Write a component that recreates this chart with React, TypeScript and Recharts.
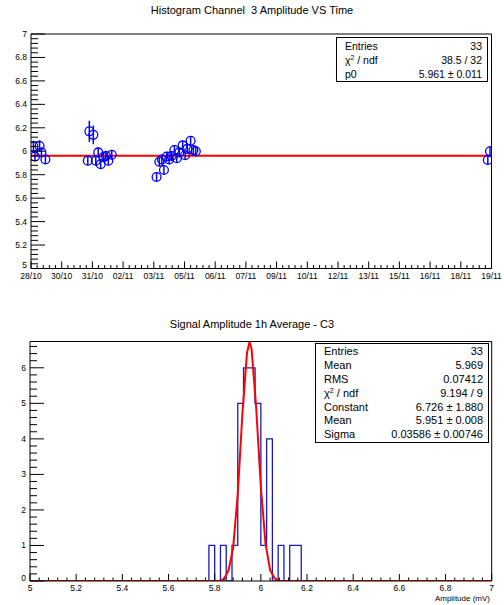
import React from 'react';
import { ComposedChart, Scatter, ErrorBar, XAxis, YAxis, ReferenceLine, Line } from 'recharts';

// ---------- Top chart data ----------
const dateLabels = ['28/10', '30/10', '31/10', '02/11', '03/11', '05/11', '06/11', '07/11', '09/11', '10/11', '12/11', '13/11', '15/11', '16/11', '18/11', '19/11'];
const timeIdx = [
  0.08, 0.13, 0.28, 0.34, 0.47,
  1.85, 1.9, 2.03, 2.11, 2.19, 2.27, 2.36, 2.44, 2.52, 2.63,
  4.09, 4.18, 4.26, 4.33, 4.42, 4.5, 4.58, 4.67, 4.75, 4.83, 4.94, 5.02, 5.09, 5.2, 5.29, 5.37,
  14.88, 14.95,
];
const amplitude = [
  6.04, 5.955, 6.045, 5.99, 5.93,
  5.92, 6.17, 6.14, 5.92, 5.99, 5.89, 5.95, 5.96, 5.92, 5.97,
  5.78, 5.91, 5.93, 5.84, 5.955, 5.93, 5.96, 6.01, 5.94, 5.99, 6.05, 5.966, 6.02, 6.09, 6.01, 6.0,
  5.925, 6.0,
];
const amplitudeErr = [
  0.05, 0.04, 0.05, 0.04, 0.04,
  0.04, 0.09, 0.08, 0.04, 0.04, 0.04, 0.04, 0.045, 0.04, 0.04,
  0.035, 0.04, 0.04, 0.04, 0.04, 0.04, 0.04, 0.04, 0.04, 0.04, 0.04, 0.04, 0.04, 0.04, 0.04, 0.04,
  0.04, 0.04,
];
const fitP0 = 5.961;
const topYMajor = [5, 5.2, 5.4, 5.6, 5.8, 6, 6.2, 6.4, 6.6, 6.8, 7];

// ---------- Bottom chart data ----------
const binLow = [5.775, 5.8, 5.825, 5.85, 5.875, 5.9, 5.925, 5.95, 5.975, 6.0, 6.025, 6.05, 6.075, 6.1, 6.125, 6.15];
const binCount = [1, 0, 1, 0, 1, 5, 6, 6, 5, 1, 4, 0, 1, 0, 1, 1];
const binWidth = 0.025;
const gaussX = [5.0, 5.8, 5.82, 5.84, 5.86, 5.88, 5.9, 5.92, 5.94, 5.951, 5.96, 5.98, 6.0, 6.02, 6.04, 6.06, 6.08, 6.1, 7.0];
const gaussY = [0, 0.0, 0.01, 0.05, 0.3, 0.93, 2.45, 4.7, 6.42, 6.73, 6.52, 4.85, 2.65, 1.06, 0.31, 0.07, 0.01, 0, 0];
const botXMajor = [5, 5.2, 5.4, 5.6, 5.8, 6, 6.2, 6.4, 6.6, 6.8, 7];
const botYMajor = [0, 1, 2, 3, 4, 5, 6];

const FONT = '"Liberation Sans", Arial, Helvetica, sans-serif';
const BLUE = '#0000ff';
const RED = '#ff0000';

const range = (a: number, b: number, step: number) => {
  const out: number[] = [];
  const n = Math.round((b - a) / step);
  for (let i = 0; i <= n; i++) out.push(+(a + i * step).toFixed(6));
  return out;
};

const isIn = (arr: number[], v: number) => arr.some((m) => Math.abs(m - v) < 1e-6);

const makeYTick = (majors: number[], majorLen: number, minorLen: number) => (props: any) => {
  const { x, y, payload } = props;
  const v = payload.value;
  const major = isIn(majors, v);
  const first = Math.abs(v - majors[0]) < 1e-6;
  return (
    <g>
      <line x1={x} x2={x + (major ? majorLen : minorLen)} y1={y} y2={y} stroke="#000" strokeWidth={1} />
      {major && (
        <text x={x - 4} y={first ? y - 3 : y} dy="0.35em" textAnchor="end" fontSize={8.5} fontFamily={FONT} fill="#000">
          {String(v)}
        </text>
      )}
    </g>
  );
};

const makeXTick = (majors: number[], majorLen: number, minorLen: number, fmt: (v: number) => string) => (props: any) => {
  const { x, y, payload } = props;
  const v = payload.value;
  const major = isIn(majors, v);
  return (
    <g>
      <line x1={x} x2={x} y1={y} y2={y - (major ? majorLen : minorLen)} stroke="#000" strokeWidth={1} />
      {major && (
        <text x={x} y={y + 10} textAnchor="middle" fontSize={8.5} fontFamily={FONT} fill="#000">
          {fmt(v)}
        </text>
      )}
    </g>
  );
};

const topData = timeIdx.map((t, i) => ({ t, a: amplitude[i], e: amplitudeErr[i] }));
const topXMajor = dateLabels.map((_, i) => i);

const histData = (() => {
  const pts: { x: number; c: number }[] = [{ x: 5, c: 0 }];
  binLow.forEach((b, i) => pts.push({ x: b, c: binCount[i] }));
  pts.push({ x: +(binLow[binLow.length - 1] + binWidth).toFixed(4), c: 0 });
  pts.push({ x: 7, c: 0 });
  return pts;
})();
const gaussData = gaussX.map((x, i) => ({ x, g: gaussY[i] }));

const Circle = (p: any) => <circle cx={p.cx} cy={p.cy} r={4.4} fill="none" stroke={BLUE} strokeWidth={1.3} />;

const boxStyle: React.CSSProperties = {
  position: 'absolute',
  background: '#fff',
  border: '1px solid #000',
  fontFamily: FONT,
  color: '#000',
  boxSizing: 'border-box',
};

const Row = ({ l, r, h, fs }: { l: React.ReactNode; r: string; h: number; fs: number }) => (
  <div style={{ display: 'flex', justifyContent: 'space-between', height: h, lineHeight: `${h}px`, fontSize: fs, padding: '0 5px 0 8px' }}>
    <span>{l}</span>
    <span>{r}</span>
  </div>
);

const Chi = () => (
  <span>
    χ<sup style={{ fontSize: '0.65em', verticalAlign: '0.55em', lineHeight: 0 }}>2</sup> / ndf
  </span>
);

export default function App() {
  return (
    <div style={{ position: 'absolute', left: 0, top: 0, width: 504, height: 605, background: '#fff', fontFamily: FONT }}>
      <div style={{ position: 'absolute', left: 0, top: 4, width: 504, textAlign: 'center', fontSize: 11 }}>
        Histogram Channel&nbsp; 3 Amplitude VS Time
      </div>
      <div style={{ position: 'absolute', left: 0, top: 0 }}>
        <ComposedChart width={504} height={300} data={topData} margin={{ top: 34, right: 12.5, bottom: 0, left: 0 }}>
          <XAxis
            type="number"
            dataKey="t"
            domain={[0, 15]}
            ticks={range(0, 15, 0.2)}
            interval={0}
            height={31.5}
            tickSize={0}
            tickMargin={0}
            axisLine={{ stroke: '#000' }}
            tickLine={false}
            tick={makeXTick(topXMajor, 7, 3.5, (v) => dateLabels[Math.round(v)])}
            allowDataOverflow
          />
          <YAxis
            type="number"
            domain={[5, 7]}
            ticks={range(5, 7, 0.04)}
            interval={0}
            width={31}
            tickSize={0}
            tickMargin={0}
            axisLine={{ stroke: '#000' }}
            tickLine={false}
            tick={makeYTick(topYMajor, 14, 7)}
            allowDataOverflow
          />
          <ReferenceLine x={15} stroke="#000" strokeWidth={1} />
          <ReferenceLine y={7} stroke="#000" strokeWidth={1} />
          <ReferenceLine y={fitP0} stroke={RED} strokeWidth={2} />
          <Scatter dataKey="a" shape={Circle} isAnimationActive={false}>
            <ErrorBar dataKey="e" direction="y" width={0} stroke={BLUE} strokeWidth={1.5} isAnimationActive={false} />
          </Scatter>
        </ComposedChart>
      </div>
      <div style={{ ...boxStyle, left: 336, top: 37, width: 152, height: 45, paddingTop: 1 }}>
        <Row l="Entries" r="33" h={14.2} fs={10.5} />
        <Row l={<Chi />} r="38.5 / 32" h={14.2} fs={10.5} />
        <Row l="p0" r="5.961 ± 0.011" h={14.2} fs={10.5} />
      </div>

      <div style={{ position: 'absolute', left: 0, top: 318, width: 504, textAlign: 'center', fontSize: 11 }}>
        Signal Amplitude 1h Average - C3
      </div>
      <div style={{ position: 'absolute', left: 0, top: 300 }}>
        <ComposedChart width={504} height={305} margin={{ top: 41.5, right: 12.3, bottom: 0, left: 0 }}>
          <XAxis
            type="number"
            dataKey="x"
            domain={[5, 7]}
            ticks={range(5, 7, 0.04)}
            interval={0}
            height={24}
            tickSize={0}
            tickMargin={0}
            axisLine={{ stroke: '#000' }}
            tickLine={false}
            tick={makeXTick(botXMajor, 7, 3.5, (v) => String(v))}
            allowDataOverflow
          />
          <YAxis
            type="number"
            domain={[0, 6.74]}
            ticks={range(0, 6.6, 0.2)}
            interval={0}
            width={30}
            tickSize={0}
            tickMargin={0}
            axisLine={{ stroke: '#000' }}
            tickLine={false}
            tick={makeYTick(botYMajor, 14, 7)}
            allowDataOverflow
          />
          <ReferenceLine x={7} stroke="#000" strokeWidth={1} />
          <ReferenceLine y={6.74} stroke="#000" strokeWidth={1} />
          <Line data={histData} dataKey="c" type="stepAfter" stroke="#1a1ab4" strokeWidth={1.3} dot={false} isAnimationActive={false} />
          <Line data={gaussData} dataKey="g" type="linear" stroke={RED} strokeWidth={2} dot={false} isAnimationActive={false} />
        </ComposedChart>
      </div>
      <div style={{ ...boxStyle, left: 315, top: 343, width: 174, height: 100, paddingTop: 1 }}>
        <Row l="Entries" r="33" h={13.9} fs={11} />
        <Row l="Mean" r="5.969" h={13.9} fs={11} />
        <Row l="RMS" r="0.07412" h={13.9} fs={11} />
        <Row l={<Chi />} r="9.194 / 9" h={13.9} fs={11} />
        <Row l="Constant" r="6.726 ± 1.880" h={13.9} fs={11} />
        <Row l="Mean" r="5.951 ± 0.008" h={13.9} fs={11} />
        <Row l="Sigma" r="0.03586 ± 0.00746" h={13.9} fs={11} />
      </div>
      <div style={{ position: 'absolute', right: 14, top: 594, fontSize: 8, lineHeight: '10px' }}>Amplitude (mV)</div>
    </div>
  );
}
